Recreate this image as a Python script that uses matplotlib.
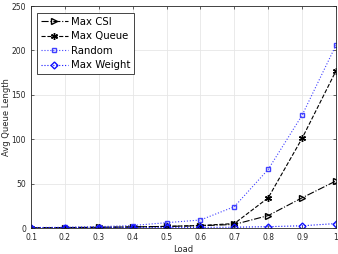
import numpy as np
from matplotlib import pyplot as plt

load = [0.1, 0.2, 0.3, 0.4, 0.5, 0.6, 0.7, 0.8, 0.9, 1.0]
max_csi = [0.3, 0.5, 0.8, 1.2, 1.8, 2.5, 4.0, 14.0, 34.0, 53.0]
max_queue = [0.3, 0.5, 0.8, 1.2, 1.8, 2.8, 5.0, 34.0, 101.0, 177.0]
random = [0.5, 0.8, 1.5, 2.8, 6.0, 9.0, 24.0, 66.0, 127.0, 206.0]
max_weight = [0.2, 0.3, 0.4, 0.5, 0.6, 0.7, 0.9, 1.5, 2.5, 5.0]

fig = plt.figure(figsize=(3.38, 2.54), dpi=100)
ax = fig.add_axes([31/338, 26/254, 305/338, 222/254])

ax.plot(load, max_csi, '-.', color='black', marker='>', ms=4, mfc='none', lw=0.8, label='Max CSI')
ax.plot(load, max_queue, '--', color='black', marker=(6, 2, 0), ms=5, lw=0.8, label='Max Queue')
ax.plot(load, random, ':', color='#4040ff', marker='s', ms=3.5, mfc='none', lw=0.8, label='Random')
ax.plot(load, max_weight, ':', color='#1010ff', marker='D', ms=3.5, mfc='none', lw=0.8, label='Max Weight')

ax.set_xlim(0.1, 1.0)
ax.set_ylim(0, 250)
ax.set_xticks(load)
ax.set_xticklabels(['0.1', '0.2', '0.3', '0.4', '0.5', '0.6', '0.7', '0.8', '0.9', '1'])
ax.set_yticks([0, 50, 100, 150, 200, 250])
ax.tick_params(direction='in', labelsize=5.5, length=2, width=0.5, colors='#262626', top=True, right=True, labeltop=False, labelright=False)
ax.grid(True, color='#e6e6e6', lw=0.6)
for s in ax.spines.values():
    s.set_color('#262626')
    s.set_linewidth(0.6)

ax.set_xlabel('Load', fontsize=6, color='#262626', labelpad=2)
ax.set_ylabel('Avg Queue Length', fontsize=6, color='#262626')
ax.yaxis.set_label_coords(-20/305, 0.5)

# legend box placed a few pixels inside the top-left corner
leg = ax.legend(loc='upper left', fontsize=7.3, fancybox=False, framealpha=1, edgecolor='#262626',
                handlelength=2.7, borderpad=0.35, labelspacing=0.45, handletextpad=0.3,
                borderaxespad=0, bbox_to_anchor=(6/305, 1 - 7/222))
leg.get_frame().set_linewidth(0.6)

fig.savefig('out.png', dpi=100)
